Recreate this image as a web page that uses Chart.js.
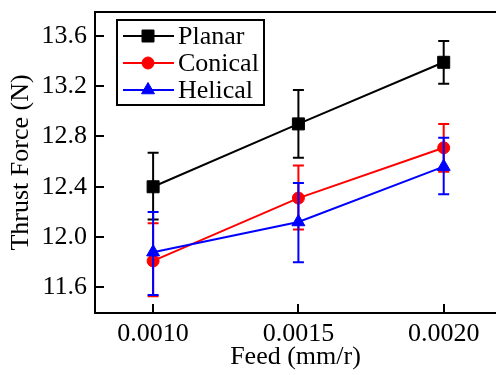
<!DOCTYPE html>
<html>
<head>
<meta charset="utf-8">
<script src="https://cdn.jsdelivr.net/npm/chart.js@4.4.1/dist/chart.umd.min.js"></script>
<style>
  html, body { margin: 0; padding: 0; background: #fff; }
  #wrap { width: 496px; height: 375px; }
</style>
</head>
<body>
<div id="wrap"><canvas id="thrustChart"></canvas></div>
<script>
// feed rate (mm/r) on x
const feeds = [0.0010, 0.0015, 0.0020];
const yTicks = [11.6, 12.0, 12.4, 12.8, 13.2, 13.6];

// mean thrust force (N) and error bar ends
const planar = [12.40, 12.90, 13.39];
const planarHigh = [12.67, 13.17, 13.56];
const planarLow = [12.14, 12.63, 13.22];

const conical = [11.81, 12.31, 12.71];
const conicalHigh = [12.11, 12.57, 12.90];
const conicalLow = [11.53, 12.06, 12.52];

const helical = [11.88, 12.12, 12.56];
const helicalHigh = [12.20, 12.43, 12.79];
const helicalLow = [11.54, 11.80, 12.34];

const FONT = 'Liberation Serif, Times New Roman, serif';
const FSIZE = 26;

function pts(vals) {
    return feeds.map((f, i) => ({ x: f, y: vals[i] }));
}

// draw error bars just before each dataset so layering matches
const errorBars = {
    id: 'errorBars',
    beforeDatasetDraw(chart, args) {
        const ds = chart.data.datasets[args.index];
        if (!ds.errHigh) return;
        const ctx = chart.ctx;
        const xs = chart.scales.x, ys = chart.scales.y;
        ctx.save();
        ctx.strokeStyle = ds.borderColor;
        ctx.lineWidth = 2;
        feeds.forEach((f, i) => {
            const x = xs.getPixelForValue(f);
            const yt = ys.getPixelForValue(ds.errHigh[i]);
            const yb = ys.getPixelForValue(ds.errLow[i]);
            ctx.beginPath();
            ctx.moveTo(x, yt); ctx.lineTo(x, yb);
            ctx.moveTo(x - 5.5, yt); ctx.lineTo(x + 5.5, yt);
            ctx.moveTo(x - 5.5, yb); ctx.lineTo(x + 5.5, yb);
            ctx.stroke();
        });
        ctx.restore();
    }
};

// top frame line and inward tick marks
const frame = {
    id: 'frame',
    beforeDatasetsDraw(chart) {
        const ctx = chart.ctx;
        const a = chart.chartArea;
        const xs = chart.scales.x, ys = chart.scales.y;
        ctx.save();
        ctx.strokeStyle = '#000';
        ctx.lineWidth = 2;
        ctx.beginPath();
        ctx.moveTo(a.left - 1, a.top);
        ctx.lineTo(a.right, a.top);
        feeds.forEach(f => {
            const x = Math.round(xs.getPixelForValue(f));
            ctx.moveTo(x, a.bottom);
            ctx.lineTo(x, a.bottom - 9);
        });
        yTicks.forEach(v => {
            const y = Math.round(ys.getPixelForValue(v));
            ctx.moveTo(a.left, y);
            ctx.lineTo(a.left + 9, y);
        });
        ctx.stroke();
        ctx.restore();
    }
};

function marker(ctx, style, color, x, y) {
    ctx.fillStyle = color;
    ctx.strokeStyle = color;
    ctx.lineWidth = 1;
    ctx.beginPath();
    if (style === 'rect') {
        ctx.rect(x - 6, y - 6, 12, 12);
    } else if (style === 'circle') {
        ctx.arc(x, y, 6, 0, Math.PI * 2);
    } else {
        const r = 7.5;
        ctx.moveTo(x, y - r);
        ctx.lineTo(x + r * Math.sin(Math.PI / 3), y + r / 2);
        ctx.lineTo(x - r * Math.sin(Math.PI / 3), y + r / 2);
        ctx.closePath();
    }
    ctx.fill();
    ctx.stroke();
}

// boxed legend inside the plot, top left
const boxLegend = {
    id: 'boxLegend',
    afterDraw(chart) {
        const ctx = chart.ctx;
        const a = chart.chartArea;
        const bx = a.left + 22, by = a.top + 8;
        ctx.save();
        ctx.strokeStyle = '#000';
        ctx.lineWidth = 2;
        ctx.strokeRect(bx, by, 147, 85);
        ctx.font = FSIZE + 'px ' + FONT;
        ctx.textBaseline = 'middle';
        chart.data.datasets.forEach((ds, i) => {
            const y = by + 16 + i * 27;
            ctx.strokeStyle = ds.borderColor;
            ctx.lineWidth = 2;
            ctx.beginPath();
            ctx.moveTo(bx + 6, y);
            ctx.lineTo(bx + 57, y);
            ctx.stroke();
            marker(ctx, ds.pointStyle, ds.borderColor, bx + 31, y);
            ctx.fillStyle = '#000';
            ctx.fillText(ds.label, bx + 61, y + 1);
        });
        ctx.restore();
    }
};

const ctx = document.getElementById('thrustChart').getContext('2d');
new Chart(ctx, {
    type: 'line',
    data: {
        datasets: [
            {
                label: 'Planar', data: pts(planar), errHigh: planarHigh, errLow: planarLow,
                borderColor: '#000000', backgroundColor: '#000000', pointStyle: 'rect',
                pointRadius: 8.5, pointBorderWidth: 1, borderWidth: 2, order: 3
            },
            {
                label: 'Conical', data: pts(conical), errHigh: conicalHigh, errLow: conicalLow,
                borderColor: '#ff0000', backgroundColor: '#ff0000', pointStyle: 'circle',
                pointRadius: 6, pointBorderWidth: 1, borderWidth: 2, order: 2
            },
            {
                label: 'Helical', data: pts(helical), errHigh: helicalHigh, errLow: helicalLow,
                borderColor: '#0000ff', backgroundColor: '#0000ff', pointStyle: 'triangle',
                pointRadius: 7.5, pointBorderWidth: 1, borderWidth: 2, order: 1
            }
        ]
    },
    options: {
        responsive: true,
        maintainAspectRatio: false,
        animation: false,
        layout: { autoPadding: false, padding: { top: 12, right: 0, left: 0, bottom: 0 } },
        plugins: {
            legend: { display: false },
            tooltip: { enabled: false }
        },
        scales: {
            x: {
                type: 'linear',
                min: 0.0008,
                max: 0.00218,
                afterBuildTicks: s => { s.ticks = feeds.map(v => ({ value: v })); },
                afterFit: s => { s.height = 62; s.paddingLeft = 0; s.paddingRight = 0; },
                grid: { drawOnChartArea: false, drawTicks: false },
                border: { display: true, color: '#000', width: 2 },
                ticks: {
                    callback: v => v.toFixed(4),
                    color: '#000',
                    font: { family: FONT, size: FSIZE },
                    padding: 6,
                    maxRotation: 0,
                    autoSkip: false
                },
                title: {
                    display: true,
                    text: 'Feed (mm/r)',
                    color: '#000',
                    font: { family: FONT, size: FSIZE },
                    padding: { top: 0, bottom: 2 }
                }
            },
            y: {
                min: 11.396,
                max: 13.79,
                afterBuildTicks: s => { s.ticks = yTicks.map(v => ({ value: v })); },
                afterFit: s => { s.width = 95; s.paddingTop = 0; s.paddingBottom = 0; },
                grid: { drawOnChartArea: false, drawTicks: false },
                border: { display: true, color: '#000', width: 2 },
                ticks: {
                    callback: v => v.toFixed(1),
                    color: '#000',
                    font: { family: FONT, size: FSIZE },
                    padding: 8
                },
                title: {
                    display: true,
                    text: 'Thrust Force (N)',
                    color: '#000',
                    font: { family: FONT, size: FSIZE },
                    padding: { top: 6, bottom: 0 }
                }
            }
        }
    },
    plugins: [errorBars, frame, boxLegend]
});
</script>
</body>
</html>
